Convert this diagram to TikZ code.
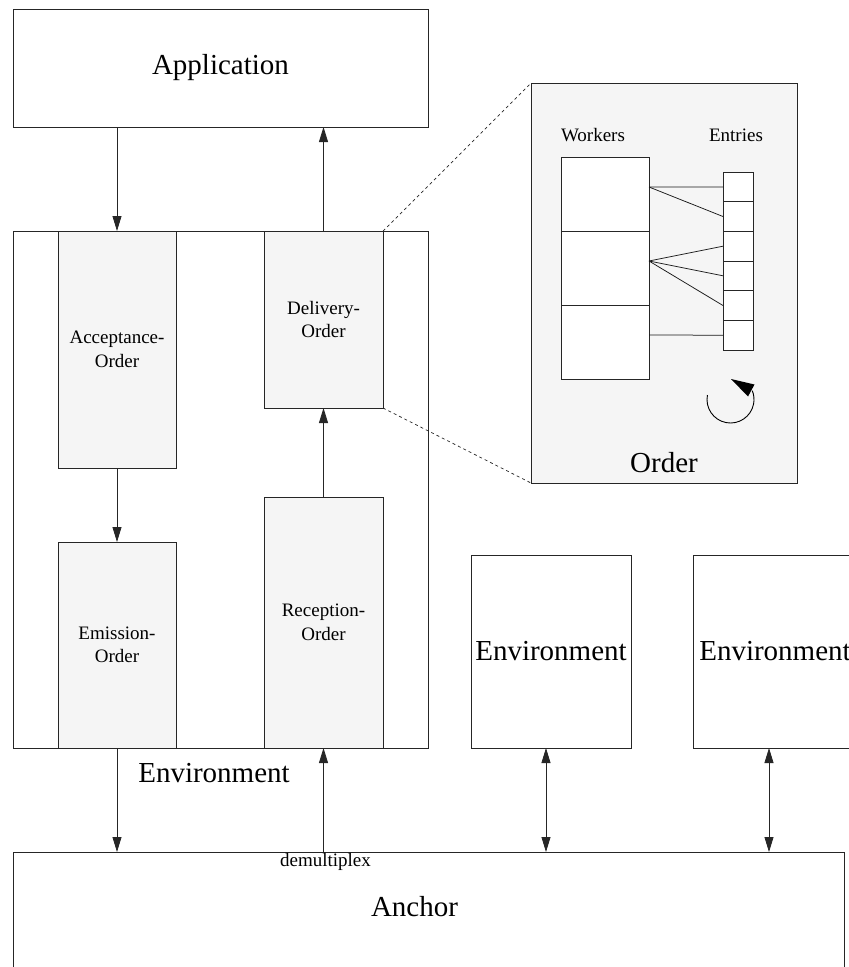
\documentclass[tikz,border=0pt]{standalone}
\usepackage{fontspec}
\setmainfont{Liberation Serif}
\usetikzlibrary{arrows.meta,calc}

\newcommand{\bigtxt}{\fontsize{29}{34}\selectfont}
\newcommand{\smalltxt}{\fontsize{19}{23.5}\selectfont}

\tikzset{
  frame/.style={draw=black!85, line width=0.8pt, inner sep=0pt, outer sep=0pt},
  plainbox/.style={frame, fill=white},
  graybox/.style={frame, fill=black!4, align=center, font=\smalltxt},
  cell/.style={frame, fill=white, minimum width=30pt, minimum height=29.67pt},
  worker/.style={frame, fill=white, minimum width=88pt, minimum height=74pt},
  flow/.style={draw=black!85, line width=0.8pt, -{Triangle[length=15pt,width=9pt]}},
  twoway/.style={draw=black!85, line width=0.8pt, {Triangle[length=15pt,width=9pt]}-{Triangle[length=15pt,width=9pt]}},
  link/.style={draw=black!90, line width=0.75pt},
  zoomline/.style={draw=black!85, line width=0.7pt, dash pattern=on 3pt off 3pt},
}

\begin{document}
\begin{tikzpicture}[x=1pt,y=-1pt]
\useasboundingbox (0,0) rectangle (849,967);
\clip (0,0) rectangle (849,967);

% application layer
\node[plainbox, minimum width=415pt, minimum height=118pt, font=\bigtxt] (app) at (220.5,68) {Application};

% left environment with its four order stages
\node[plainbox, minimum width=415pt, minimum height=517pt] (envL) at (220.5,489.5) {};
\node[graybox, minimum width=118pt, minimum height=237pt] (acc) at (117,349.5) {Acceptance-\\Order};
\node[graybox, minimum width=119pt, minimum height=177pt] (del) at (323.5,319.5) {Delivery-\\Order};
\node[graybox, minimum width=118pt, minimum height=206pt] (emi) at (117,645) {Emission-\\Order};
\node[graybox, minimum width=119pt, minimum height=251pt] (rec) at (323.5,622.5) {Reception-\\Order};
\node[font=\bigtxt] (envLlabel) at (214,773) {Environment};

% further environments
\node[plainbox, minimum width=160pt, minimum height=193pt, font=\bigtxt] (env2) at (551,651.5) {Environment};
\node[plainbox, minimum width=164pt, minimum height=193pt, font=\bigtxt] (env3) at (775,651.5) {Environment};

% anchor
\node[plainbox, minimum width=831pt, minimum height=156pt] (anchor) at (428.5,930) {};
\node[font=\bigtxt] (anchorlabel) at (414.5,907) {Anchor};

% detail of an order
\node[frame, fill=black!4, minimum width=266pt, minimum height=400pt] (order) at (664,283) {};
\node[font=\bigtxt] (orderlabel) at (664,463) {Order};
\node[font=\smalltxt] (wlabel) at (593,135) {Workers};
\node[font=\smalltxt] (elabel) at (736,135) {Entries};
\node[worker] (w1) at (605,194) {};
\node[worker] (w2) at (605,268) {};
\node[worker] (w3) at (605,342) {};
\foreach \i/\y in {1/186.9, 2/216.5, 3/246.2, 4/275.8, 5/305.5, 6/335.2}
  \node[cell] (e\i) at (738,\y) {};

\draw[link] ([yshift=7pt]w1.east) -- (e1.west);
\draw[link] ([yshift=7pt]w1.east) -- (e2.west);
\draw[link] ([yshift=7pt]w2.east) -- (e3.west);
\draw[link] ([yshift=7pt]w2.east) -- (e4.west);
\draw[link] ([yshift=7pt]w2.east) -- (e5.west);
\draw[link] ([yshift=7pt]w3.east) -- (e6.west);

% cycling arrow: an open arc with a bent-in triangular head
\coordinate (cyc) at (730.5,399.5);
\draw[draw=black, line width=0.9pt]
  ([shift={(191:23.5)}]cyc) arc[start angle=191, end angle=-22, radius=23.5];
\fill[black] (731,379) -- (754.5,384.5) -- (748,396.5) -- cycle;

% zoom lines from the delivery order to its detail
\draw[zoomline] (del.north east) -- (order.north west);
\draw[zoomline] (del.south east) -- (order.south west);

% message flow
\draw[flow] (app.south -| acc.north) -- (acc.north);
\draw[flow] (del.north) -- (app.south -| del.north);
\draw[flow] (acc.south) -- (emi.north);
\draw[flow] (rec.north) -- (del.south);
\draw[flow] (emi.south) -- (anchor.north -| emi.south);
\draw[flow] (anchor.north -| rec.south) -- (rec.south);
\node[font=\smalltxt, anchor=north, inner sep=1pt] (demux) at ([xshift=2pt]anchor.north -| rec.south) {demultiplex};
\draw[twoway] ([xshift=-5pt]env2.south) -- ([xshift=-5pt]env2.south |- anchor.north);
\draw[twoway] ([xshift=-6pt]env3.south) -- ([xshift=-6pt]env3.south |- anchor.north);
\end{tikzpicture}
\end{document}
